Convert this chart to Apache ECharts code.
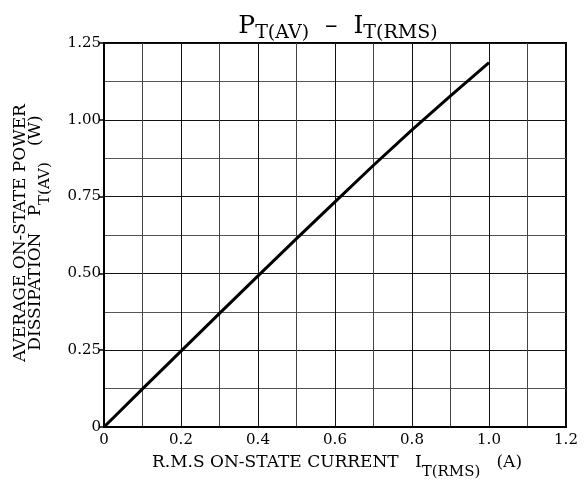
<!DOCTYPE html>
<html>
<head>
<meta charset="utf-8">
<script src="https://cdn.jsdelivr.net/npm/echarts@6/dist/echarts.min.js"></script>
<style>html,body{margin:0;padding:0;background:#fff}#c{width:587px;height:494px}</style>
</head>
<body>
<div id="c"></div>
<script>
const currentA = [0, 0.1, 0.2, 0.3, 0.4, 0.5, 0.6, 0.7, 0.8, 0.9, 1.0];
const powerW   = [0, 0.124, 0.247, 0.37, 0.492, 0.613, 0.733, 0.852, 0.967, 1.078, 1.186];
const xTicks = ['0', '0.2', '0.4', '0.6', '0.8', '1.0', '1.2'];
const yTicks = ['0', '0.25', '0.50', '0.75', '1.00', '1.25'];

const F = '"DejaVu Serif", serif';
const chart = echarts.init(document.getElementById('c'), null, {renderer: 'canvas'});
const xMap = {}; xTicks.forEach(t => xMap[parseFloat(t).toFixed(1)] = t);
const yMap = {}; yTicks.forEach(t => yMap[parseFloat(t).toFixed(2)] = t);

const richAxis = {
  a: {fontFamily: F, fontSize: 17, fontWeight: 'normal', fill: '#000', color: '#000', lineHeight: 21, verticalAlign: 'top'},
  s: {fontFamily: F, fontSize: 15, fontWeight: 'normal', fill: '#000', color: '#000', lineHeight: 26, verticalAlign: 'bottom', padding: [8, 0, 0, 0]}
};

chart.setOption({
  animation: false,
  backgroundColor: '#fff',
  grid: {left: 104, right: 21, top: 43, bottom: 67, show: true, borderColor: '#000', borderWidth: 2, backgroundColor: 'transparent'},
  title: {
    text: '{p|P}{s|T(AV)}{p|  –  I}{s|T(RMS)}',
    left: 333, top: 9, textAlign: 'center',
    textStyle: {
      fontWeight: 'normal',
      rich: {
        p: {fontFamily: F, fontSize: 25, fontWeight: 'normal', color: '#000', lineHeight: 29, verticalAlign: 'top'},
        s: {fontFamily: F, fontSize: 19, fontWeight: 'normal', color: '#000', lineHeight: 22, verticalAlign: 'bottom', padding: [10, 0, 0, 0]}
      }
    }
  },
  xAxis: {
    type: 'value', min: 0, max: 1.2, interval: 0.2,
    axisLine: {show: true, lineStyle: {color: '#000', width: 2}},
    axisTick: {show: false},
    minorTick: {show: false, splitNumber: 2},
    splitLine: {show: true, lineStyle: {color: '#111', width: 1}},
    minorSplitLine: {show: true, lineStyle: {color: '#444', width: 1}},
    axisLabel: {fontFamily: F, fontSize: 15, color: '#000', margin: 6,
      formatter: v => xMap[v.toFixed(1)] || ''}
  },
  yAxis: {
    type: 'value', min: 0, max: 1.25, interval: 0.25,
    axisLine: {show: true, lineStyle: {color: '#000', width: 2}},
    axisTick: {show: true, length: 5, lineStyle: {color: '#000', width: 1.5}},
    minorTick: {show: false, splitNumber: 2},
    splitLine: {show: true, lineStyle: {color: '#111', width: 1}},
    minorSplitLine: {show: true, lineStyle: {color: '#555', width: 1}},
    axisLabel: {fontFamily: F, fontSize: 15, color: '#000', margin: 3,
      formatter: v => yMap[v.toFixed(2)] || ''}
  },
  series: [{
    type: 'line', symbol: 'none', smooth: false,
    data: currentA.map((x, i) => [x, powerW[i]]),
    lineStyle: {color: '#000', width: 3}
  }],
  graphic: [
    {
      type: 'text', x: 337, y: 467,
      style: {
        text: '{a|R.M.S ON-STATE CURRENT   I}{s|T(RMS)}{a|   (A)}',
        align: 'center', verticalAlign: 'middle',
        rich: richAxis
      }
    },
    {
      type: 'text', x: 21, y: 233, rotation: Math.PI / 2,
      style: {
        text: 'AVERAGE ON-STATE POWER',
        align: 'center', verticalAlign: 'middle',
        font: '17px ' + F, fill: '#000'
      }
    },
    {
      type: 'text', x: 40, y: 233, rotation: Math.PI / 2,
      style: {
        text: '{a|DISSIPATION   P}{s|T(AV)}{a|   (W)}',
        align: 'center', verticalAlign: 'middle',
        rich: richAxis
      }
    }
  ]
});
</script>
</body>
</html>
